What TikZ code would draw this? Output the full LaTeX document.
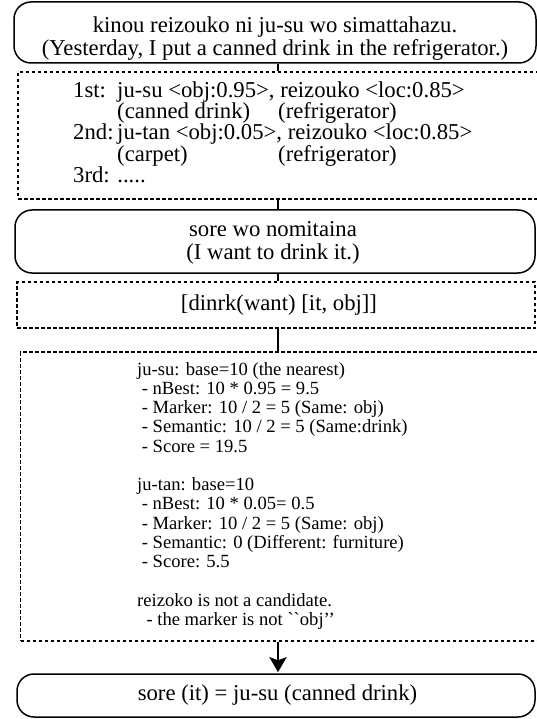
\documentclass[tikz,border=0pt]{standalone}
\usepackage{fontspec}
\newfontfamily\tnr{Liberation Serif}
\usetikzlibrary{arrows.meta}
\begin{document}
\begin{tikzpicture}[x=1pt,y=-1pt,
  solidbox/.style={draw, line width=1.5pt, rounded corners=17pt, inner sep=0pt},
  dashbox/.style={draw, line width=1.2pt, dash pattern=on 3.5pt off 2.5pt, inner sep=0pt},
  link/.style={line width=2.7pt},
  bigtxt/.style={font=\tnr\fontsize{22.7}{27}\selectfont, inner sep=0pt, anchor=base},
  leftbig/.style={bigtxt, anchor=base west},
  smalltxt/.style={font=\tnr\fontsize{18.6}{23}\selectfont, inner sep=0pt, anchor=base west}]
\useasboundingbox (0,0) rectangle (537,719);

% frames
\node[solidbox, minimum width=522pt, minimum height=61pt] (b1) at (275,32.5) {};
\node[dashbox,  minimum width=527pt, minimum height=127pt] (b2) at (281.5,135.5) {};
\node[solidbox, minimum width=520pt, minimum height=63pt] (b3) at (275,241.5) {};
\node[dashbox,  minimum width=518pt, minimum height=46pt] (b4) at (276,305) {};
\node[dashbox,  minimum width=524.5pt, minimum height=289pt] (b5) at (282.75,496.5) {};
\node[solidbox, minimum width=518pt, minimum height=43pt] (b6) at (276,695.5) {};

% vertical axis of the flow
\coordinate (axis) at (278,0);
\draw[link] (b1.south -| axis) -- (b2.north -| axis);
\draw[link] (b2.south -| axis) -- (b3.north -| axis);
\draw[link] (b3.south -| axis) -- (b4.north -| axis);
\draw[link] (b4.south -| axis) -- (b5.north -| axis);
\draw[link, -{Stealth[length=15pt, width=17pt, inset=3pt]}, shorten >=1pt]
  (b5.south -| axis) -- (b6.north -| axis);

% first utterance
\node[bigtxt] (u1a) at (275,33) {kinou reizouko ni ju-su wo simattahazu.};
\node[bigtxt] (u1b) at (275,56) {(Yesterday, I put a canned drink in the refrigerator.)};

% n-best candidates
\node[leftbig] (r1) at (73,97.5) {1st:};
\node[leftbig] (r1c) at (117,97.5) {ju-su <obj:0.95>, reizouko <loc:0.85>};
\node[leftbig] (r1d) at (117,118.5) {(canned drink)};
\node[leftbig] (r1e) at (278,118.5) {(refrigerator)};
\node[leftbig] (r2) at (73,140) {2nd:};
\node[leftbig] (r2c) at (117,140) {ju-tan <obj:0.05>, reizouko <loc:0.85>};
\node[leftbig] (r2d) at (117,161.5) {(carpet)};
\node[leftbig] (r2e) at (278,161.5) {(refrigerator)};
\node[leftbig] (r3) at (73,183) {3rd: .....};

% second utterance
\node[bigtxt] (u2a) at (273,236.5) {sore wo nomitaina};
\node[bigtxt] (u2b) at (273,259) {(I want to drink it.)};

% case frame
\node[bigtxt] (cf) at (279,310) {[dinrk(want) [it, obj]]};

% scoring
\node[smalltxt] (s1)  at (137,375)    {ju-su: base=10 (the nearest)};
\node[smalltxt] (s2)  at (137,394.25) {\ - nBest: 10 * 0.95 = 9.5};
\node[smalltxt] (s3)  at (137,413.5)  {\ - Marker: 10 / 2 = 5 (Same: obj)};
\node[smalltxt] (s4)  at (137,432.75) {\ - Semantic: 10 / 2 = 5 (Same:drink)};
\node[smalltxt] (s5)  at (137,452)    {\ - Score = 19.5};
\node[smalltxt] (s6)  at (137,490.5)  {ju-tan: base=10};
\node[smalltxt] (s7)  at (137,509.75) {\ - nBest: 10 * 0.05= 0.5};
\node[smalltxt] (s8)  at (137,529)    {\ - Marker: 10 / 2 = 5 (Same: obj)};
\node[smalltxt] (s9)  at (137,548.25) {\ - Semantic: 0 (Different: furniture)};
\node[smalltxt] (s10) at (137,567.5)  {\ - Score: 5.5};
\node[smalltxt] (s11) at (137,606)    {reizoko is not a candidate.};
\node[smalltxt] (s12) at (137,625.25) {\ \ - the marker is not \char"60\char"60 obj’’};

% resolution
\node[bigtxt] (res) at (277.5,700) {sore (it) = ju-su (canned drink)};
\end{tikzpicture}
\end{document}
